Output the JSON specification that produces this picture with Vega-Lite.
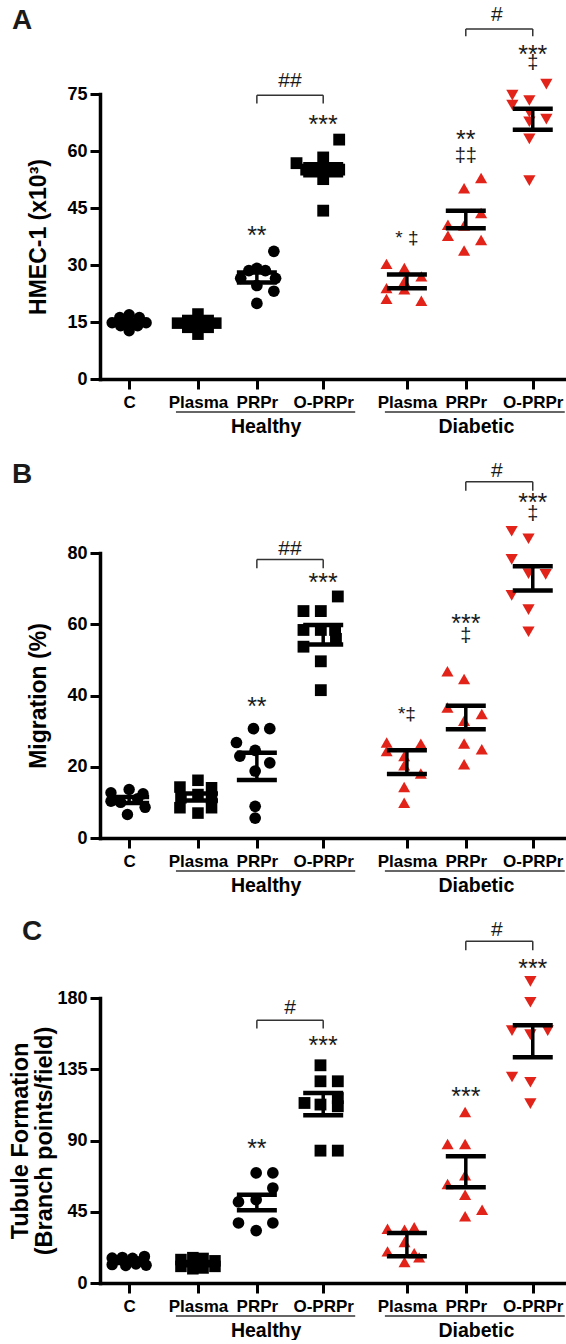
{
"$schema": "https://vega.github.io/schema/vega-lite/v6.json",
"padding": {"left": 8, "top": 3, "right": 0, "bottom": 0},
"spacing": 23,
"datasets": {
"grp": [
{"k":"C","pos":0.47},{"k":"H-Plasma","pos":1.58},{"k":"H-PRPr","pos":2.53},{"k":"H-O-PRPr","pos":3.6},
{"k":"D-Plasma","pos":4.95},{"k":"D-PRPr","pos":5.9},{"k":"D-O-PRPr","pos":6.98},
{"k":"H-pair","pos":3.065},{"k":"D-pair","pos":6.4},{"k":"Healthy","pos":2.68},{"k":"Diabetic","pos":6.07},
{"k":"L","pos":-1.42},{"k":"LC","pos":-1.26}
],
"lab": [
{"l":"Healthy","a":"H-Plasma","b":"H-O-PRPr"},
{"l":"Diabetic","a":"D-Plasma","b":"D-O-PRPr"}
],
"pts": [
{"p":"A","g":"C","v":14.8,"c":-1},{"p":"A","g":"C","v":16.2,"c":-0.55},{"p":"A","g":"C","v":16.9,"c":0},{"p":"A","g":"C","v":16.2,"c":0.6},{"p":"A","g":"C","v":14.8,"c":1},{"p":"A","g":"C","v":12.7,"c":0},{"p":"A","g":"C","v":14.0,"c":-0.5},{"p":"A","g":"C","v":14.0,"c":0.5},{"p":"A","g":"C","v":15.0,"c":0},
{"p":"A","g":"H-Plasma","v":14.7,"c":-1.2},{"p":"A","g":"H-Plasma","v":15.4,"c":-0.6},{"p":"A","g":"H-Plasma","v":17.1,"c":0},{"p":"A","g":"H-Plasma","v":15.4,"c":0.6},{"p":"A","g":"H-Plasma","v":14.7,"c":1.05},{"p":"A","g":"H-Plasma","v":11.8,"c":0},{"p":"A","g":"H-Plasma","v":13.6,"c":-0.6},{"p":"A","g":"H-Plasma","v":13.6,"c":0.6},{"p":"A","g":"H-Plasma","v":14.5,"c":0},
{"p":"A","g":"H-PRPr","v":33.6,"c":1.0},{"p":"A","g":"H-PRPr","v":26.5,"c":-0.95},{"p":"A","g":"H-PRPr","v":28.5,"c":-0.47},{"p":"A","g":"H-PRPr","v":29.1,"c":0},{"p":"A","g":"H-PRPr","v":28.5,"c":0.5},{"p":"A","g":"H-PRPr","v":26.5,"c":1.1},{"p":"A","g":"H-PRPr","v":24.6,"c":0},{"p":"A","g":"H-PRPr","v":23.1,"c":1.0},{"p":"A","g":"H-PRPr","v":19.9,"c":0},
{"p":"A","g":"H-O-PRPr","v":63.0,"c":0.94},{"p":"A","g":"H-O-PRPr","v":56.8,"c":-1.57},{"p":"A","g":"H-O-PRPr","v":58.3,"c":0},{"p":"A","g":"H-O-PRPr","v":55.1,"c":-1.0},{"p":"A","g":"H-O-PRPr","v":55.1,"c":-0.5},{"p":"A","g":"H-O-PRPr","v":55.1,"c":0.45},{"p":"A","g":"H-O-PRPr","v":55.1,"c":0.94},{"p":"A","g":"H-O-PRPr","v":52.6,"c":0},{"p":"A","g":"H-O-PRPr","v":44.3,"c":0},{"p":"A","g":"H-O-PRPr","v":55.1,"c":0},
{"p":"A","g":"D-Plasma","v":30.3,"c":-1.2},{"p":"A","g":"D-Plasma","v":29.2,"c":-0.15},{"p":"A","g":"D-Plasma","v":27.0,"c":0.85},{"p":"A","g":"D-Plasma","v":25.7,"c":-0.15},{"p":"A","g":"D-Plasma","v":23.9,"c":-1.2},{"p":"A","g":"D-Plasma","v":23.6,"c":-0.15},{"p":"A","g":"D-Plasma","v":21.1,"c":-1.2},{"p":"A","g":"D-Plasma","v":20.6,"c":0.85},
{"p":"A","g":"D-PRPr","v":52.9,"c":0.9},{"p":"A","g":"D-PRPr","v":50.2,"c":-0.1},{"p":"A","g":"D-PRPr","v":43.7,"c":0.9},{"p":"A","g":"D-PRPr","v":40.6,"c":-1.05},{"p":"A","g":"D-PRPr","v":40.4,"c":-0.1},{"p":"A","g":"D-PRPr","v":37.7,"c":-1.05},{"p":"A","g":"D-PRPr","v":36.6,"c":0.9},{"p":"A","g":"D-PRPr","v":33.8,"c":-0.1},
{"p":"A","g":"D-O-PRPr","v":77.6,"c":0.8},{"p":"A","g":"D-O-PRPr","v":74.7,"c":-1.2},{"p":"A","g":"D-O-PRPr","v":73.3,"c":-0.2},{"p":"A","g":"D-O-PRPr","v":72.1,"c":-1.2},{"p":"A","g":"D-O-PRPr","v":70.2,"c":-0.2},{"p":"A","g":"D-O-PRPr","v":68.4,"c":0.8},{"p":"A","g":"D-O-PRPr","v":67.7,"c":-0.2},{"p":"A","g":"D-O-PRPr","v":63.2,"c":-0.2},{"p":"A","g":"D-O-PRPr","v":52.2,"c":-0.2},

{"p":"B","g":"C","v":12.7,"c":-1.07},{"p":"B","g":"C","v":13.6,"c":0},{"p":"B","g":"C","v":12.4,"c":0.82},{"p":"B","g":"C","v":10.3,"c":-1.07},{"p":"B","g":"C","v":8.6,"c":0.94},{"p":"B","g":"C","v":6.6,"c":-0.1},{"p":"B","g":"C","v":10.0,"c":-0.5},{"p":"B","g":"C","v":11.0,"c":0.5},
{"p":"B","g":"H-Plasma","v":16.2,"c":0},{"p":"B","g":"H-Plasma","v":14.3,"c":-1.06},{"p":"B","g":"H-Plasma","v":14.1,"c":0.8},{"p":"B","g":"H-Plasma","v":8.5,"c":-1.06},{"p":"B","g":"H-Plasma","v":8.5,"c":0.8},{"p":"B","g":"H-Plasma","v":7.0,"c":0},{"p":"B","g":"H-Plasma","v":12.2,"c":0},{"p":"B","g":"H-Plasma","v":11.3,"c":-1.0},{"p":"B","g":"H-Plasma","v":11.3,"c":0.8},
{"p":"B","g":"H-PRPr","v":30.7,"c":-0.2},{"p":"B","g":"H-PRPr","v":30.7,"c":0.76},{"p":"B","g":"H-PRPr","v":26.8,"c":-1.2},{"p":"B","g":"H-PRPr","v":24.6,"c":-0.1},{"p":"B","g":"H-PRPr","v":23.0,"c":-1.0},{"p":"B","g":"H-PRPr","v":21.1,"c":0.76},{"p":"B","g":"H-PRPr","v":18.8,"c":-0.1},{"p":"B","g":"H-PRPr","v":8.9,"c":-0.1},{"p":"B","g":"H-PRPr","v":5.6,"c":-0.1},
{"p":"B","g":"H-O-PRPr","v":67.8,"c":0.86},{"p":"B","g":"H-O-PRPr","v":63.7,"c":-1.16},{"p":"B","g":"H-O-PRPr","v":63.7,"c":-0.14},{"p":"B","g":"H-O-PRPr","v":58.4,"c":-1.16},{"p":"B","g":"H-O-PRPr","v":58.4,"c":-0.14},{"p":"B","g":"H-O-PRPr","v":58.4,"c":0.7},{"p":"B","g":"H-O-PRPr","v":53.7,"c":-1.16},{"p":"B","g":"H-O-PRPr","v":49.6,"c":-0.14},{"p":"B","g":"H-O-PRPr","v":41.5,"c":-0.14},{"p":"B","g":"H-O-PRPr","v":55.9,"c":0.75},
{"p":"B","g":"D-Plasma","v":26.8,"c":-1.19},{"p":"B","g":"D-Plasma","v":26.5,"c":0.82},{"p":"B","g":"D-Plasma","v":24.4,"c":-1.19},{"p":"B","g":"D-Plasma","v":23.0,"c":-0.16},{"p":"B","g":"D-Plasma","v":20.4,"c":-0.16},{"p":"B","g":"D-Plasma","v":18.1,"c":0.82},{"p":"B","g":"D-Plasma","v":14.3,"c":-0.16},{"p":"B","g":"D-Plasma","v":9.9,"c":-0.16},
{"p":"B","g":"D-PRPr","v":46.8,"c":-1.08},{"p":"B","g":"D-PRPr","v":44.6,"c":-0.1},{"p":"B","g":"D-PRPr","v":36.6,"c":-1.08},{"p":"B","g":"D-PRPr","v":34.8,"c":0.94},{"p":"B","g":"D-PRPr","v":32.9,"c":-0.1},{"p":"B","g":"D-PRPr","v":26.5,"c":-0.1},{"p":"B","g":"D-PRPr","v":24.9,"c":0.94},{"p":"B","g":"D-PRPr","v":20.7,"c":-0.1},
{"p":"B","g":"D-O-PRPr","v":86.1,"c":-1.24},{"p":"B","g":"D-O-PRPr","v":84.0,"c":-0.25},{"p":"B","g":"D-O-PRPr","v":78.2,"c":-1.24},{"p":"B","g":"D-O-PRPr","v":74.2,"c":-0.25},{"p":"B","g":"D-O-PRPr","v":74.0,"c":0.76},{"p":"B","g":"D-O-PRPr","v":68.1,"c":-1.24},{"p":"B","g":"D-O-PRPr","v":64.1,"c":-0.25},{"p":"B","g":"D-O-PRPr","v":57.9,"c":-0.25},

{"p":"C","g":"C","v":15.8,"c":-1.0},{"p":"C","g":"C","v":16.2,"c":-0.4},{"p":"C","g":"C","v":15.6,"c":0.2},{"p":"C","g":"C","v":16.8,"c":0.9},{"p":"C","g":"C","v":11.6,"c":-1.0},{"p":"C","g":"C","v":11.0,"c":-0.2},{"p":"C","g":"C","v":12.0,"c":0.4},{"p":"C","g":"C","v":11.2,"c":1.0},{"p":"C","g":"C","v":13.5,"c":0.5},
{"p":"C","g":"H-Plasma","v":14.8,"c":-1.0},{"p":"C","g":"H-Plasma","v":16.0,"c":-0.3},{"p":"C","g":"H-Plasma","v":15.5,"c":0.3},{"p":"C","g":"H-Plasma","v":14.0,"c":1.0},{"p":"C","g":"H-Plasma","v":10.5,"c":-1.0},{"p":"C","g":"H-Plasma","v":9.0,"c":-0.3},{"p":"C","g":"H-Plasma","v":9.5,"c":0.3},{"p":"C","g":"H-Plasma","v":10.5,"c":1.0},{"p":"C","g":"H-Plasma","v":12.5,"c":0},
{"p":"C","g":"H-PRPr","v":69.5,"c":-0.04},{"p":"C","g":"H-PRPr","v":69.5,"c":0.94},{"p":"C","g":"H-PRPr","v":60.0,"c":0.94},{"p":"C","g":"H-PRPr","v":51.2,"c":-1.08},{"p":"C","g":"H-PRPr","v":52.6,"c":-0.04},{"p":"C","g":"H-PRPr","v":37.9,"c":-1.08},{"p":"C","g":"H-PRPr","v":37.9,"c":0.94},{"p":"C","g":"H-PRPr","v":33.1,"c":-0.04},
{"p":"C","g":"H-O-PRPr","v":137.5,"c":-0.16},{"p":"C","g":"H-O-PRPr","v":127.4,"c":-0.16},{"p":"C","g":"H-O-PRPr","v":127.4,"c":0.86},{"p":"C","g":"H-O-PRPr","v":113.7,"c":-1.1},{"p":"C","g":"H-O-PRPr","v":112.7,"c":-0.16},{"p":"C","g":"H-O-PRPr","v":116.8,"c":0.86},{"p":"C","g":"H-O-PRPr","v":111.6,"c":0.86},{"p":"C","g":"H-O-PRPr","v":83.6,"c":-0.16},{"p":"C","g":"H-O-PRPr","v":83.6,"c":0.86},
{"p":"C","g":"D-Plasma","v":34.3,"c":-1.14},{"p":"C","g":"D-Plasma","v":33.7,"c":-0.14},{"p":"C","g":"D-Plasma","v":35.2,"c":0.43},{"p":"C","g":"D-Plasma","v":25.9,"c":-0.14},{"p":"C","g":"D-Plasma","v":20.0,"c":-1.14},{"p":"C","g":"D-Plasma","v":18.9,"c":0.43},{"p":"C","g":"D-Plasma","v":16.2,"c":0.72},{"p":"C","g":"D-Plasma","v":13.3,"c":-0.14},
{"p":"C","g":"D-PRPr","v":108.0,"c":-0.04},{"p":"C","g":"D-PRPr","v":87.8,"c":-1.07},{"p":"C","g":"D-PRPr","v":87.8,"c":-0.04},{"p":"C","g":"D-PRPr","v":68.0,"c":-0.04},{"p":"C","g":"D-PRPr","v":62.5,"c":-1.07},{"p":"C","g":"D-PRPr","v":55.8,"c":-0.04},{"p":"C","g":"D-PRPr","v":46.3,"c":0.96},{"p":"C","g":"D-PRPr","v":42.1,"c":-0.04},
{"p":"C","g":"D-O-PRPr","v":190.5,"c":-0.14},{"p":"C","g":"D-O-PRPr","v":177.3,"c":-0.14},{"p":"C","g":"D-O-PRPr","v":159.4,"c":-1.22},{"p":"C","g":"D-O-PRPr","v":156.9,"c":-0.14},{"p":"C","g":"D-O-PRPr","v":159.4,"c":0.88},{"p":"C","g":"D-O-PRPr","v":130.1,"c":-1.22},{"p":"C","g":"D-O-PRPr","v":126.8,"c":-0.14},{"p":"C","g":"D-O-PRPr","v":113.3,"c":-0.14}
],
"err": [
{"p":"A","g":"C","lo":14.4,"hi":15.5},{"p":"A","g":"H-Plasma","lo":14.0,"hi":15.1},{"p":"A","g":"H-PRPr","lo":25.4,"hi":28.0},{"p":"A","g":"H-O-PRPr","lo":53.6,"hi":56.5},{"p":"A","g":"D-Plasma","lo":23.9,"hi":27.5},{"p":"A","g":"D-PRPr","lo":39.7,"hi":44.3},{"p":"A","g":"D-O-PRPr","lo":65.6,"hi":71.1},
{"p":"B","g":"C","lo":9.8,"hi":11.5},{"p":"B","g":"H-Plasma","lo":10.5,"hi":12.5},{"p":"B","g":"H-PRPr","lo":16.3,"hi":23.9},{"p":"B","g":"H-O-PRPr","lo":54.3,"hi":59.8},{"p":"B","g":"D-Plasma","lo":18.0,"hi":24.6},{"p":"B","g":"D-PRPr","lo":30.5,"hi":37.1},{"p":"B","g":"D-O-PRPr","lo":69.5,"hi":76.3},
{"p":"C","g":"C","lo":12.6,"hi":14.6},{"p":"C","g":"H-Plasma","lo":11.2,"hi":13.3},{"p":"C","g":"H-PRPr","lo":45.9,"hi":55.8},{"p":"C","g":"H-O-PRPr","lo":105.9,"hi":120.0},{"p":"C","g":"D-Plasma","lo":16.9,"hi":31.6},{"p":"C","g":"D-PRPr","lo":60.4,"hi":80.0},{"p":"C","g":"D-O-PRPr","lo":142.6,"hi":162.8}
],
"ann": [
{"p":"A","g":"L","v":92.0,"t":"A","k":"letter"},
{"p":"A","g":"H-pair","v":78.5,"t":"##","k":"hash"},{"p":"A","g":"H-O-PRPr","v":68.7,"t":"***","k":"star"},{"p":"A","g":"H-PRPr","v":39.5,"t":"**","k":"star"},{"p":"A","g":"D-pair","v":95.8,"t":"#","k":"hash"},{"p":"A","g":"D-O-PRPr","v":87.1,"t":"***","k":"star"},{"p":"A","g":"D-O-PRPr","v":83.1,"t":"‡","k":"dagger"},{"p":"A","g":"D-PRPr","v":64.7,"t":"**","k":"star"},{"p":"A","g":"D-PRPr","v":58.8,"t":"‡‡","k":"dagger"},{"p":"A","g":"D-Plasma","v":37.0,"t":"* ‡","k":"combo"},
{"p":"B","g":"L","v":99.6,"t":"B","k":"letter"},
{"p":"B","g":"H-pair","v":81.2,"t":"##","k":"hash"},{"p":"B","g":"H-O-PRPr","v":73.5,"t":"***","k":"star"},{"p":"B","g":"H-PRPr","v":38.8,"t":"**","k":"star"},{"p":"B","g":"D-pair","v":103.1,"t":"#","k":"hash"},{"p":"B","g":"D-O-PRPr","v":96.0,"t":"***","k":"star"},{"p":"B","g":"D-O-PRPr","v":90.9,"t":"‡","k":"dagger"},{"p":"B","g":"D-PRPr","v":62.0,"t":"***","k":"star"},{"p":"B","g":"D-PRPr","v":56.8,"t":"‡","k":"dagger"},{"p":"B","g":"D-Plasma","v":34.8,"t":"*‡","k":"combo"},
{"p":"C","g":"LC","v":216.6,"t":"C","k":"letter"},
{"p":"C","g":"H-pair","v":173.7,"t":"#","k":"hash"},{"p":"C","g":"H-O-PRPr","v":154.4,"t":"***","k":"star"},{"p":"C","g":"H-PRPr","v":89.3,"t":"**","k":"star"},{"p":"C","g":"D-pair","v":223.2,"t":"#","k":"hash"},{"p":"C","g":"D-O-PRPr","v":203.0,"t":"***","k":"star"},{"p":"C","g":"D-PRPr","v":121.9,"t":"***","k":"star"}
],
"br": [
{"p":"A","a":"H-PRPr","b":"H-O-PRPr","top":74.7,"bot":72.5},{"p":"A","a":"D-PRPr","b":"D-O-PRPr","top":92.1,"bot":90.2},
{"p":"B","a":"H-PRPr","b":"H-O-PRPr","top":78.2,"bot":75.7},{"p":"B","a":"D-PRPr","b":"D-O-PRPr","top":100.0,"bot":97.5},
{"p":"C","a":"H-PRPr","b":"H-O-PRPr","top":165.9,"bot":160.7},{"p":"C","a":"D-PRPr","b":"D-O-PRPr","top":215.8,"bot":210.1}
]
},
"vconcat": [
{
"width": 465, "height": 285,
"resolve": {"scale": {"size": "independent"}},
"encoding": {"x": {"field": "pos", "type": "quantitative", "scale": {"domain": [0, 7.5], "nice": false, "zero": false},
  "axis": {"title": null, "values": [0.47, 1.58, 2.53, 3.6, 4.95, 5.9, 6.98], "labelExpr": "datum.value < 1 ? 'C' : (datum.value < 2 || (datum.value > 4.5 && datum.value < 5.5)) ? 'Plasma' : (datum.value < 3 || (datum.value > 5.5 && datum.value < 6.5)) ? 'PRPr' : 'O-PRPr'", "labelOverlap": false, "labelFlush": false}}},
"layer": [
{"data": {"name": "pts"}, "transform": [{"filter": "datum.p === 'A'"}, {"lookup": "g", "from": {"data": {"name": "grp"}, "key": "k", "fields": ["pos"]}}],
 "mark": {"type": "point", "filled": true, "opacity": 1, "xOffset": {"expr": "datum.c * 17"}},
 "encoding": {
  "y": {"field": "v", "type": "quantitative", "scale": {"domain": [0, 75], "nice": false}, "axis": {"title": "HMEC-1 (x10³)", "values": [0, 15, 30, 45, 60, 75], "titlePadding": 16}},
  "shape": {"field": "g", "type": "nominal", "scale": {"domain": ["C","H-Plasma","H-PRPr","H-O-PRPr","D-Plasma","D-PRPr","D-O-PRPr"], "range": ["circle","square","circle","square","triangle-up","triangle-up","triangle-down"]}, "legend": null},
  "color": {"field": "g", "type": "nominal", "scale": {"domain": ["C","H-Plasma","H-PRPr","H-O-PRPr","D-Plasma","D-PRPr","D-O-PRPr"], "range": ["#000","#000","#000","#000","#e2231a","#e2231a","#e2231a"]}, "legend": null},
  "size": {"field": "g", "type": "nominal", "scale": {"domain": ["C","H-Plasma","H-PRPr","H-O-PRPr","D-Plasma","D-PRPr","D-O-PRPr"], "range": [130,150,130,150,135,135,135]}, "legend": null}
 }},
{"data": {"name": "err"}, "transform": [{"filter": "datum.p === 'A'"}, {"lookup": "g", "from": {"data": {"name": "grp"}, "key": "k", "fields": ["pos"]}}],
 "mark": {"type": "rule", "strokeWidth": 3.5, "color": "#000"},
 "encoding": {"y": {"field": "lo", "type": "quantitative"}, "y2": {"field": "hi"}}},
{"data": {"name": "err"}, "transform": [{"filter": "datum.p === 'A'"}, {"lookup": "g", "from": {"data": {"name": "grp"}, "key": "k", "fields": ["pos"]}}],
 "mark": {"type": "rule", "strokeWidth": 4.5, "color": "#000", "xOffset": -20, "x2Offset": 20},
 "encoding": {"x2": {"field": "pos"}, "y": {"field": "lo", "type": "quantitative"}}},
{"data": {"name": "err"}, "transform": [{"filter": "datum.p === 'A'"}, {"lookup": "g", "from": {"data": {"name": "grp"}, "key": "k", "fields": ["pos"]}}],
 "mark": {"type": "rule", "strokeWidth": 4.5, "color": "#000", "xOffset": -20, "x2Offset": 20},
 "encoding": {"x2": {"field": "pos"}, "y": {"field": "hi", "type": "quantitative"}}},
{"data": {"name": "br"}, "transform": [{"filter": "datum.p === 'A'"}, {"lookup": "a", "from": {"data": {"name": "grp"}, "key": "k", "fields": ["pos"]}, "as": ["pa"]}, {"lookup": "b", "from": {"data": {"name": "grp"}, "key": "k", "fields": ["pos"]}, "as": ["pb"]}],
 "mark": {"type": "rule", "strokeWidth": 1.5, "color": "#333"},
 "encoding": {"x": {"field": "pa", "type": "quantitative"}, "x2": {"field": "pb"}, "y": {"field": "top", "type": "quantitative"}}},
{"data": {"name": "br"}, "transform": [{"filter": "datum.p === 'A'"}, {"lookup": "a", "from": {"data": {"name": "grp"}, "key": "k", "fields": ["pos"]}, "as": ["pa"]}],
 "mark": {"type": "rule", "strokeWidth": 1.5, "color": "#333"},
 "encoding": {"x": {"field": "pa", "type": "quantitative"}, "y": {"field": "top", "type": "quantitative"}, "y2": {"field": "bot"}}},
{"data": {"name": "br"}, "transform": [{"filter": "datum.p === 'A'"}, {"lookup": "b", "from": {"data": {"name": "grp"}, "key": "k", "fields": ["pos"]}, "as": ["pb"]}],
 "mark": {"type": "rule", "strokeWidth": 1.5, "color": "#333"},
 "encoding": {"x": {"field": "pb", "type": "quantitative"}, "y": {"field": "top", "type": "quantitative"}, "y2": {"field": "bot"}}},
{"data": {"name": "ann"}, "transform": [{"filter": "datum.p === 'A' && datum.k === 'star'"}, {"lookup": "g", "from": {"data": {"name": "grp"}, "key": "k", "fields": ["pos"]}}],
 "mark": {"type": "text", "font": "Liberation Sans", "fontSize": 25, "baseline": "middle", "dy": 7, "color": "#1a1a1a"},
 "encoding": {"y": {"field": "v", "type": "quantitative"}, "text": {"field": "t"}}},
{"data": {"name": "ann"}, "transform": [{"filter": "datum.p === 'A' && datum.k !== 'star' && datum.k !== 'letter'"}, {"lookup": "g", "from": {"data": {"name": "grp"}, "key": "k", "fields": ["pos"]}}],
 "mark": {"type": "text", "font": "Liberation Sans", "baseline": "middle", "color": "#1a1a1a"},
 "encoding": {"y": {"field": "v", "type": "quantitative"}, "text": {"field": "t"}, "size": {"field": "k", "type": "nominal", "scale": {"domain": ["hash","dagger","combo"], "range": [21, 19, 24]}, "legend": null}}},
{"data": {"name": "ann"}, "transform": [{"filter": "datum.p === 'A' && datum.k === 'letter'"}, {"lookup": "g", "from": {"data": {"name": "grp"}, "key": "k", "fields": ["pos"]}}],
 "mark": {"type": "text", "font": "Liberation Sans", "fontWeight": "bold", "fontSize": 28, "align": "left", "baseline": "alphabetic", "color": "#1a1a1a"},
 "encoding": {"y": {"field": "v", "type": "quantitative"}, "text": {"field": "t"}}},
{"data": {"name": "lab"}, "transform": [{"lookup": "a", "from": {"data": {"name": "grp"}, "key": "k", "fields": ["pos"]}, "as": ["pa"]}, {"lookup": "b", "from": {"data": {"name": "grp"}, "key": "k", "fields": ["pos"]}, "as": ["pb"]}],
 "mark": {"type": "rule", "strokeWidth": 1.5, "color": "#333", "xOffset": -22, "x2Offset": 32, "yOffset": 33},
 "encoding": {"x": {"field": "pa", "type": "quantitative"}, "x2": {"field": "pb"}, "y": {"datum": 0}}},
{"data": {"name": "lab"}, "transform": [{"lookup": "l", "from": {"data": {"name": "grp"}, "key": "k", "fields": ["pos"]}}],
 "mark": {"type": "text", "font": "Liberation Sans", "fontWeight": "bold", "fontSize": 19.5, "baseline": "alphabetic", "dy": 53.5, "color": "#000"},
 "encoding": {"y": {"datum": 0}, "text": {"field": "l"}}}
]
},
{
"width": 465, "height": 285,
"resolve": {"scale": {"size": "independent"}},
"encoding": {"x": {"field": "pos", "type": "quantitative", "scale": {"domain": [0, 7.5], "nice": false, "zero": false},
  "axis": {"title": null, "values": [0.47, 1.58, 2.53, 3.6, 4.95, 5.9, 6.98], "labelExpr": "datum.value < 1 ? 'C' : (datum.value < 2 || (datum.value > 4.5 && datum.value < 5.5)) ? 'Plasma' : (datum.value < 3 || (datum.value > 5.5 && datum.value < 6.5)) ? 'PRPr' : 'O-PRPr'", "labelOverlap": false, "labelFlush": false}}},
"layer": [
{"data": {"name": "pts"}, "transform": [{"filter": "datum.p === 'B'"}, {"lookup": "g", "from": {"data": {"name": "grp"}, "key": "k", "fields": ["pos"]}}],
 "mark": {"type": "point", "filled": true, "opacity": 1, "xOffset": {"expr": "datum.c * 17"}},
 "encoding": {
  "y": {"field": "v", "type": "quantitative", "scale": {"domain": [0, 80], "nice": false}, "axis": {"title": "Migration (%)", "values": [0, 20, 40, 60, 80], "titlePadding": 16}},
  "shape": {"field": "g", "type": "nominal", "scale": {"domain": ["C","H-Plasma","H-PRPr","H-O-PRPr","D-Plasma","D-PRPr","D-O-PRPr"], "range": ["circle","square","circle","square","triangle-up","triangle-up","triangle-down"]}, "legend": null},
  "color": {"field": "g", "type": "nominal", "scale": {"domain": ["C","H-Plasma","H-PRPr","H-O-PRPr","D-Plasma","D-PRPr","D-O-PRPr"], "range": ["#000","#000","#000","#000","#e2231a","#e2231a","#e2231a"]}, "legend": null},
  "size": {"field": "g", "type": "nominal", "scale": {"domain": ["C","H-Plasma","H-PRPr","H-O-PRPr","D-Plasma","D-PRPr","D-O-PRPr"], "range": [130,150,130,150,135,135,135]}, "legend": null}
 }},
{"data": {"name": "err"}, "transform": [{"filter": "datum.p === 'B'"}, {"lookup": "g", "from": {"data": {"name": "grp"}, "key": "k", "fields": ["pos"]}}],
 "mark": {"type": "rule", "strokeWidth": 3.5, "color": "#000"},
 "encoding": {"y": {"field": "lo", "type": "quantitative"}, "y2": {"field": "hi"}}},
{"data": {"name": "err"}, "transform": [{"filter": "datum.p === 'B'"}, {"lookup": "g", "from": {"data": {"name": "grp"}, "key": "k", "fields": ["pos"]}}],
 "mark": {"type": "rule", "strokeWidth": 4.5, "color": "#000", "xOffset": -20, "x2Offset": 20},
 "encoding": {"x2": {"field": "pos"}, "y": {"field": "lo", "type": "quantitative"}}},
{"data": {"name": "err"}, "transform": [{"filter": "datum.p === 'B'"}, {"lookup": "g", "from": {"data": {"name": "grp"}, "key": "k", "fields": ["pos"]}}],
 "mark": {"type": "rule", "strokeWidth": 4.5, "color": "#000", "xOffset": -20, "x2Offset": 20},
 "encoding": {"x2": {"field": "pos"}, "y": {"field": "hi", "type": "quantitative"}}},
{"data": {"name": "br"}, "transform": [{"filter": "datum.p === 'B'"}, {"lookup": "a", "from": {"data": {"name": "grp"}, "key": "k", "fields": ["pos"]}, "as": ["pa"]}, {"lookup": "b", "from": {"data": {"name": "grp"}, "key": "k", "fields": ["pos"]}, "as": ["pb"]}],
 "mark": {"type": "rule", "strokeWidth": 1.5, "color": "#333"},
 "encoding": {"x": {"field": "pa", "type": "quantitative"}, "x2": {"field": "pb"}, "y": {"field": "top", "type": "quantitative"}}},
{"data": {"name": "br"}, "transform": [{"filter": "datum.p === 'B'"}, {"lookup": "a", "from": {"data": {"name": "grp"}, "key": "k", "fields": ["pos"]}, "as": ["pa"]}],
 "mark": {"type": "rule", "strokeWidth": 1.5, "color": "#333"},
 "encoding": {"x": {"field": "pa", "type": "quantitative"}, "y": {"field": "top", "type": "quantitative"}, "y2": {"field": "bot"}}},
{"data": {"name": "br"}, "transform": [{"filter": "datum.p === 'B'"}, {"lookup": "b", "from": {"data": {"name": "grp"}, "key": "k", "fields": ["pos"]}, "as": ["pb"]}],
 "mark": {"type": "rule", "strokeWidth": 1.5, "color": "#333"},
 "encoding": {"x": {"field": "pb", "type": "quantitative"}, "y": {"field": "top", "type": "quantitative"}, "y2": {"field": "bot"}}},
{"data": {"name": "ann"}, "transform": [{"filter": "datum.p === 'B' && datum.k === 'star'"}, {"lookup": "g", "from": {"data": {"name": "grp"}, "key": "k", "fields": ["pos"]}}],
 "mark": {"type": "text", "font": "Liberation Sans", "fontSize": 25, "baseline": "middle", "dy": 7, "color": "#1a1a1a"},
 "encoding": {"y": {"field": "v", "type": "quantitative"}, "text": {"field": "t"}}},
{"data": {"name": "ann"}, "transform": [{"filter": "datum.p === 'B' && datum.k !== 'star' && datum.k !== 'letter'"}, {"lookup": "g", "from": {"data": {"name": "grp"}, "key": "k", "fields": ["pos"]}}],
 "mark": {"type": "text", "font": "Liberation Sans", "baseline": "middle", "color": "#1a1a1a"},
 "encoding": {"y": {"field": "v", "type": "quantitative"}, "text": {"field": "t"}, "size": {"field": "k", "type": "nominal", "scale": {"domain": ["hash","dagger","combo"], "range": [21, 19, 24]}, "legend": null}}},
{"data": {"name": "ann"}, "transform": [{"filter": "datum.p === 'B' && datum.k === 'letter'"}, {"lookup": "g", "from": {"data": {"name": "grp"}, "key": "k", "fields": ["pos"]}}],
 "mark": {"type": "text", "font": "Liberation Sans", "fontWeight": "bold", "fontSize": 28, "align": "left", "baseline": "alphabetic", "color": "#1a1a1a"},
 "encoding": {"y": {"field": "v", "type": "quantitative"}, "text": {"field": "t"}}},
{"data": {"name": "lab"}, "transform": [{"lookup": "a", "from": {"data": {"name": "grp"}, "key": "k", "fields": ["pos"]}, "as": ["pa"]}, {"lookup": "b", "from": {"data": {"name": "grp"}, "key": "k", "fields": ["pos"]}, "as": ["pb"]}],
 "mark": {"type": "rule", "strokeWidth": 1.5, "color": "#333", "xOffset": -22, "x2Offset": 32, "yOffset": 33},
 "encoding": {"x": {"field": "pa", "type": "quantitative"}, "x2": {"field": "pb"}, "y": {"datum": 0}}},
{"data": {"name": "lab"}, "transform": [{"lookup": "l", "from": {"data": {"name": "grp"}, "key": "k", "fields": ["pos"]}}],
 "mark": {"type": "text", "font": "Liberation Sans", "fontWeight": "bold", "fontSize": 19.5, "baseline": "alphabetic", "dy": 53.5, "color": "#000"},
 "encoding": {"y": {"datum": 0}, "text": {"field": "l"}}}
]
},
{
"width": 465, "height": 285,
"resolve": {"scale": {"size": "independent"}},
"encoding": {"x": {"field": "pos", "type": "quantitative", "scale": {"domain": [0, 7.5], "nice": false, "zero": false},
  "axis": {"title": null, "values": [0.47, 1.58, 2.53, 3.6, 4.95, 5.9, 6.98], "labelExpr": "datum.value < 1 ? 'C' : (datum.value < 2 || (datum.value > 4.5 && datum.value < 5.5)) ? 'Plasma' : (datum.value < 3 || (datum.value > 5.5 && datum.value < 6.5)) ? 'PRPr' : 'O-PRPr'", "labelOverlap": false, "labelFlush": false}}},
"layer": [
{"data": {"name": "pts"}, "transform": [{"filter": "datum.p === 'C'"}, {"lookup": "g", "from": {"data": {"name": "grp"}, "key": "k", "fields": ["pos"]}}],
 "mark": {"type": "point", "filled": true, "opacity": 1, "xOffset": {"expr": "datum.c * 17"}},
 "encoding": {
  "y": {"field": "v", "type": "quantitative", "scale": {"domain": [0, 180], "nice": false}, "axis": {"title": ["Tubule Formation", "(Branch points/field)"], "values": [0, 45, 90, 135, 180], "titlePadding": 0, "titleLineHeight": 24, "titleFontSize": 23.5}},
  "shape": {"field": "g", "type": "nominal", "scale": {"domain": ["C","H-Plasma","H-PRPr","H-O-PRPr","D-Plasma","D-PRPr","D-O-PRPr"], "range": ["circle","square","circle","square","triangle-up","triangle-up","triangle-down"]}, "legend": null},
  "color": {"field": "g", "type": "nominal", "scale": {"domain": ["C","H-Plasma","H-PRPr","H-O-PRPr","D-Plasma","D-PRPr","D-O-PRPr"], "range": ["#000","#000","#000","#000","#e2231a","#e2231a","#e2231a"]}, "legend": null},
  "size": {"field": "g", "type": "nominal", "scale": {"domain": ["C","H-Plasma","H-PRPr","H-O-PRPr","D-Plasma","D-PRPr","D-O-PRPr"], "range": [130,150,130,150,135,135,135]}, "legend": null}
 }},
{"data": {"name": "err"}, "transform": [{"filter": "datum.p === 'C'"}, {"lookup": "g", "from": {"data": {"name": "grp"}, "key": "k", "fields": ["pos"]}}],
 "mark": {"type": "rule", "strokeWidth": 3.5, "color": "#000"},
 "encoding": {"y": {"field": "lo", "type": "quantitative"}, "y2": {"field": "hi"}}},
{"data": {"name": "err"}, "transform": [{"filter": "datum.p === 'C'"}, {"lookup": "g", "from": {"data": {"name": "grp"}, "key": "k", "fields": ["pos"]}}],
 "mark": {"type": "rule", "strokeWidth": 4.5, "color": "#000", "xOffset": -20, "x2Offset": 20},
 "encoding": {"x2": {"field": "pos"}, "y": {"field": "lo", "type": "quantitative"}}},
{"data": {"name": "err"}, "transform": [{"filter": "datum.p === 'C'"}, {"lookup": "g", "from": {"data": {"name": "grp"}, "key": "k", "fields": ["pos"]}}],
 "mark": {"type": "rule", "strokeWidth": 4.5, "color": "#000", "xOffset": -20, "x2Offset": 20},
 "encoding": {"x2": {"field": "pos"}, "y": {"field": "hi", "type": "quantitative"}}},
{"data": {"name": "br"}, "transform": [{"filter": "datum.p === 'C'"}, {"lookup": "a", "from": {"data": {"name": "grp"}, "key": "k", "fields": ["pos"]}, "as": ["pa"]}, {"lookup": "b", "from": {"data": {"name": "grp"}, "key": "k", "fields": ["pos"]}, "as": ["pb"]}],
 "mark": {"type": "rule", "strokeWidth": 1.5, "color": "#333"},
 "encoding": {"x": {"field": "pa", "type": "quantitative"}, "x2": {"field": "pb"}, "y": {"field": "top", "type": "quantitative"}}},
{"data": {"name": "br"}, "transform": [{"filter": "datum.p === 'C'"}, {"lookup": "a", "from": {"data": {"name": "grp"}, "key": "k", "fields": ["pos"]}, "as": ["pa"]}],
 "mark": {"type": "rule", "strokeWidth": 1.5, "color": "#333"},
 "encoding": {"x": {"field": "pa", "type": "quantitative"}, "y": {"field": "top", "type": "quantitative"}, "y2": {"field": "bot"}}},
{"data": {"name": "br"}, "transform": [{"filter": "datum.p === 'C'"}, {"lookup": "b", "from": {"data": {"name": "grp"}, "key": "k", "fields": ["pos"]}, "as": ["pb"]}],
 "mark": {"type": "rule", "strokeWidth": 1.5, "color": "#333"},
 "encoding": {"x": {"field": "pb", "type": "quantitative"}, "y": {"field": "top", "type": "quantitative"}, "y2": {"field": "bot"}}},
{"data": {"name": "ann"}, "transform": [{"filter": "datum.p === 'C' && datum.k === 'star'"}, {"lookup": "g", "from": {"data": {"name": "grp"}, "key": "k", "fields": ["pos"]}}],
 "mark": {"type": "text", "font": "Liberation Sans", "fontSize": 25, "baseline": "middle", "dy": 7, "color": "#1a1a1a"},
 "encoding": {"y": {"field": "v", "type": "quantitative"}, "text": {"field": "t"}}},
{"data": {"name": "ann"}, "transform": [{"filter": "datum.p === 'C' && datum.k !== 'star' && datum.k !== 'letter'"}, {"lookup": "g", "from": {"data": {"name": "grp"}, "key": "k", "fields": ["pos"]}}],
 "mark": {"type": "text", "font": "Liberation Sans", "baseline": "middle", "color": "#1a1a1a"},
 "encoding": {"y": {"field": "v", "type": "quantitative"}, "text": {"field": "t"}, "size": {"field": "k", "type": "nominal", "scale": {"domain": ["hash","dagger","combo"], "range": [21, 19, 24]}, "legend": null}}},
{"data": {"name": "ann"}, "transform": [{"filter": "datum.p === 'C' && datum.k === 'letter'"}, {"lookup": "g", "from": {"data": {"name": "grp"}, "key": "k", "fields": ["pos"]}}],
 "mark": {"type": "text", "font": "Liberation Sans", "fontWeight": "bold", "fontSize": 28, "align": "left", "baseline": "alphabetic", "color": "#1a1a1a"},
 "encoding": {"y": {"field": "v", "type": "quantitative"}, "text": {"field": "t"}}},
{"data": {"name": "lab"}, "transform": [{"lookup": "a", "from": {"data": {"name": "grp"}, "key": "k", "fields": ["pos"]}, "as": ["pa"]}, {"lookup": "b", "from": {"data": {"name": "grp"}, "key": "k", "fields": ["pos"]}, "as": ["pb"]}],
 "mark": {"type": "rule", "strokeWidth": 1.5, "color": "#333", "xOffset": -22, "x2Offset": 32, "yOffset": 33},
 "encoding": {"x": {"field": "pa", "type": "quantitative"}, "x2": {"field": "pb"}, "y": {"datum": 0}}},
{"data": {"name": "lab"}, "transform": [{"lookup": "l", "from": {"data": {"name": "grp"}, "key": "k", "fields": ["pos"]}}],
 "mark": {"type": "text", "font": "Liberation Sans", "fontWeight": "bold", "fontSize": 19.5, "baseline": "alphabetic", "dy": 53.5, "color": "#000"},
 "encoding": {"y": {"datum": 0}, "text": {"field": "l"}}}
]
}
],
"config": {
"view": {"stroke": null},
"font": "Liberation Sans",
"axis": {"domainColor": "#000", "tickColor": "#000", "labelColor": "#000", "titleColor": "#000", "labelFont": "Liberation Sans", "labelFontWeight": "bold", "titleFont": "Liberation Sans", "titleFontWeight": "bold", "grid": false, "tickWidth": 3, "tickSize": 10, "domainWidth": 3.5, "domainCap": "square"},
"axisY": {"labelFontSize": 18, "labelPadding": 3, "titleFontSize": 23},
"axisX": {"labelFontSize": 17, "labelPadding": 5}
}
}
